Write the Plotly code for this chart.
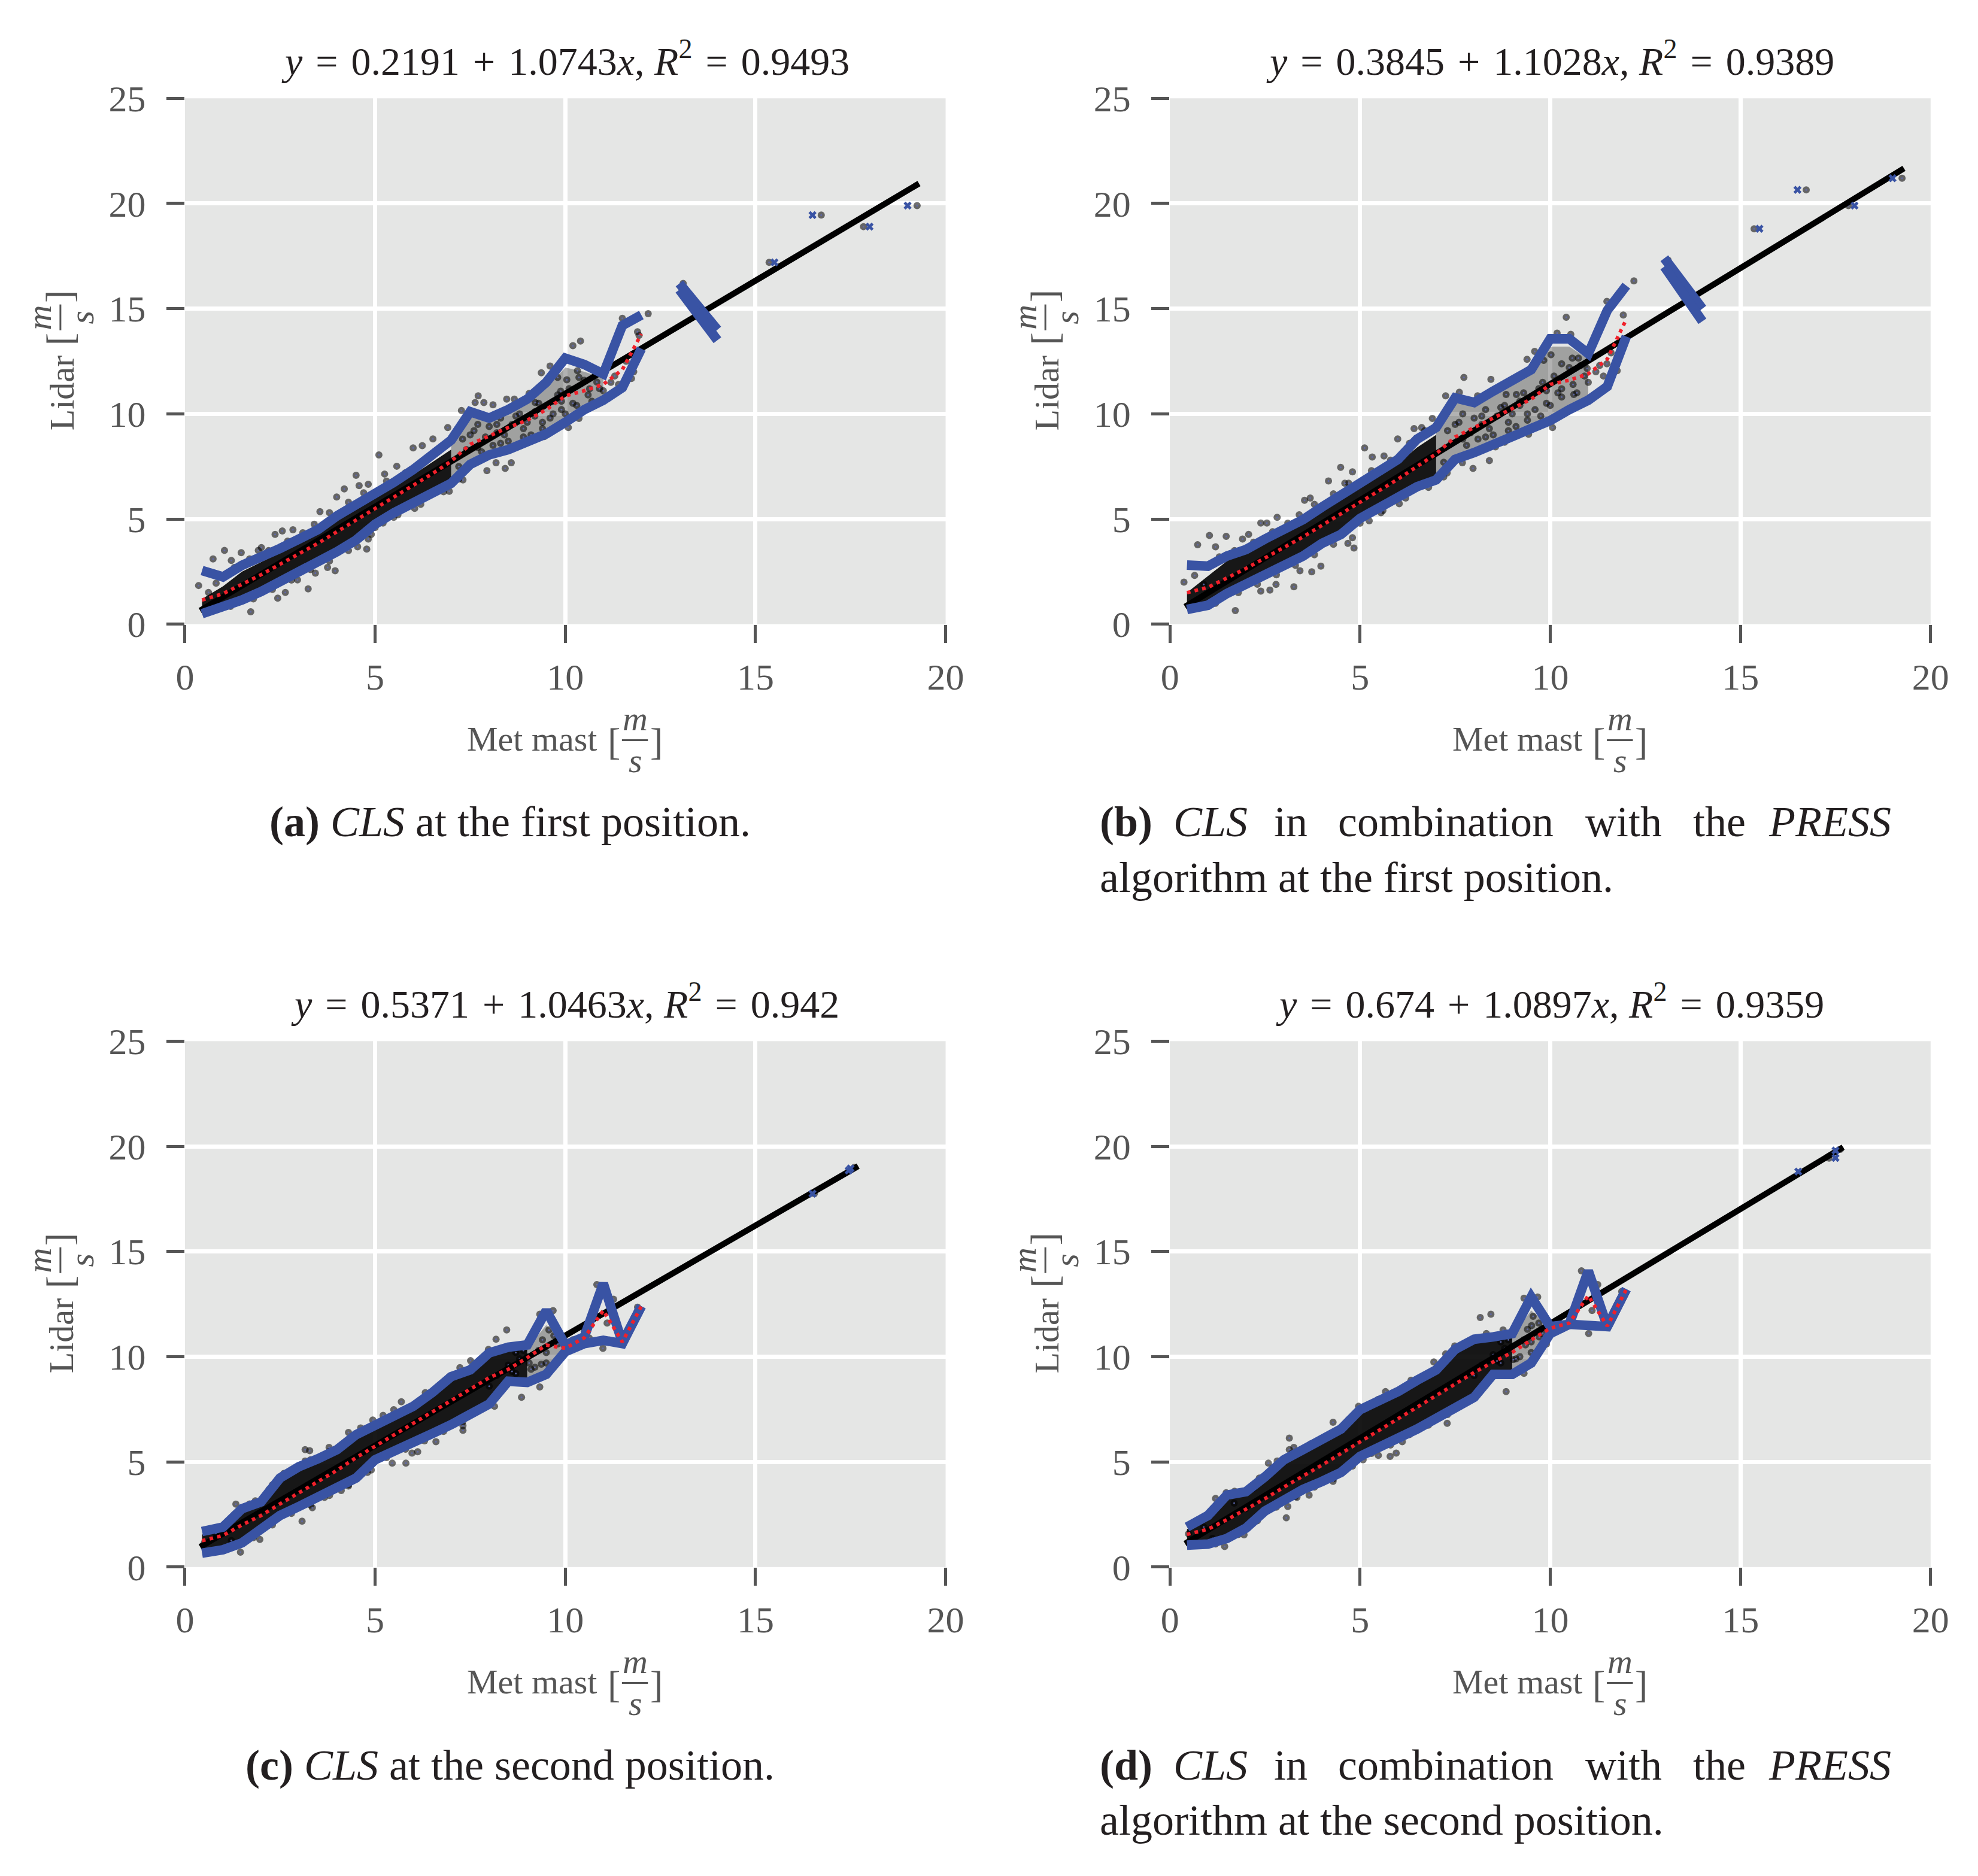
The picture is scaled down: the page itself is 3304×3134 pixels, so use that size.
import plotly.graph_objects as go

W, H = 3304, 3134
FONT = "Liberation Serif"
BG = "#E5E6E5"
BLUE = "#3953A4"
TICK = "#555555"
INK = "#231F20"

# ---------------- data ----------------
bins = [0.45, 1.0, 1.5, 2.0, 2.5, 3.0, 3.5, 4.0, 4.5, 5.0, 5.5, 6.0,
        6.5, 7.0, 7.5, 8.0, 8.5, 9.0, 9.5, 10.0, 10.5, 11.0, 11.5, 12.0]

upper_a = [2.55, 2.25, 2.8, 3.15, 3.6, 4.05, 4.5, 5.15, 5.65, 6.2, 6.75, 7.35,
           8.05, 8.75, 10.1, 9.8, 10.2, 10.7, 11.5, 12.65, 12.35, 11.9, 14.2, 14.7]
lower_a = [0.5, 0.8, 1.15, 1.55, 2.0, 2.45, 2.95, 3.45, 4.0, 4.75, 5.3, 5.8,
           6.25, 6.7, 7.6, 8.05, 8.3, 8.65, 9.05, 9.6, 10.2, 10.65, 11.25, 13.1]
mean_a = [1.15, 1.45, 1.9, 2.35, 2.85, 3.35, 3.85, 4.4, 4.95, 5.5, 6.05, 6.6,
          7.15, 7.75, 8.55, 8.95, 9.35, 9.7, 10.2, 10.85, 11.1, 11.4, 12.1, 13.8]

upper_b = [2.81, 2.76, 3.24, 3.55, 4.05, 4.5, 4.97, 5.57, 6.11, 6.7, 7.3, 7.84,
           8.8, 9.35, 10.76, 10.54, 11.08, 11.62, 12.1, 13.57, 13.57, 12.86, 14.92, 16.1]
lower_b = [0.7, 0.9, 1.46, 1.9, 2.32, 2.76, 3.24, 3.84, 4.27, 5.03, 5.57, 6.11,
           6.54, 6.86, 7.84, 8.16, 8.6, 8.92, 9.3, 9.68, 10.2, 10.65, 11.3, 13.68]
mean_b = [1.5, 1.75, 2.2, 2.65, 3.15, 3.65, 4.15, 4.7, 5.25, 5.8, 6.35, 6.9,
          7.5, 8.1, 8.9, 9.35, 9.8, 10.25, 10.7, 11.4, 11.6, 11.9, 12.6, 14.5]

upper_c = [1.69, 1.9, 2.77, 3.1, 4.23, 4.77, 5.15, 5.58, 6.29, 6.72, 7.15, 7.64,
           8.29, 9.05, 9.37, 10.18, 10.45, 10.56, 12.19, 10.56, 10.94, 13.48, 10.67, 12.4]
lower_c = [0.66, 0.82, 1.15, 1.8, 2.45, 2.88, 3.31, 3.74, 4.23, 5.1, 5.48, 5.91,
           6.34, 6.77, 7.32, 7.75, 8.83, 8.78, 9.16, 10.24, 10.62, 10.78, 10.62, 12.4]
mean_c = [1.25, 1.5, 2.0, 2.45, 3.0, 3.55, 4.1, 4.6, 5.2, 5.75, 6.3, 6.8,
          7.35, 7.9, 8.45, 9.0, 9.4, 9.95, 10.55, 10.4, 10.9, 12.2, 10.7, 12.4]

upper_d = [1.9, 2.45, 3.42, 3.58, 4.29, 5.1, 5.58, 6.02, 6.56, 7.48, 7.86, 8.34,
           8.88, 9.37, 10.35, 10.83, 10.94, 11.1, 12.84, 11.43, 11.54, 14.08, 11.43, 13.21]
lower_d = [1.04, 1.09, 1.36, 1.85, 2.66, 3.2, 3.69, 4.07, 4.5, 5.26, 5.64, 6.13,
           6.56, 7.1, 7.53, 8.07, 9.16, 9.16, 9.7, 11.1, 11.54, 11.48, 11.43, 13.21]
mean_d = [1.55, 1.8, 2.25, 2.75, 3.25, 3.8, 4.35, 4.85, 5.4, 5.95, 6.5, 7.05,
          7.6, 8.15, 8.7, 9.25, 9.75, 10.2, 10.8, 11.35, 11.6, 12.9, 11.45, 13.2]

# isolated band pieces between 13 and 14 m/s (panels a, b)
seg_x = [13.0, 14.0]
seg_hi_a = [16.2, 14.0]
seg_lo_a = [15.9, 13.5]
seg_hi_b = [17.4, 15.0]
seg_lo_b = [17.0, 14.4]

# regression lines (end points)
fit_x_ab = [0.4, 19.3]
fit_y_a = [0.65, 20.95]
fit_y_b = [0.83, 21.67]
fit_x_cd = [0.4, 17.7]
fit_y_c = [0.96, 19.06]
fit_y_d = [1.11, 19.96]

# dense core of the point cloud
core_x_ab = [0.45, 1.0, 1.5, 2.0, 2.5, 3.0, 3.5, 4.0, 4.5, 5.0, 5.5, 6.0, 6.5, 7.0]
core_hi_a = [1.2, 1.8, 2.5, 2.95, 3.4, 3.85, 4.3, 4.95, 5.45, 6.0, 6.5, 7.1, 7.7, 8.3]
core_lo_a = [0.55, 0.85, 1.2, 1.6, 2.05, 2.5, 3.0, 3.5, 4.05, 4.8, 5.35, 5.85, 6.3, 6.75]
core_hi_b = [1.5, 2.3, 3.0, 3.4, 3.9, 4.35, 4.8, 5.4, 5.95, 6.55, 7.1, 7.65, 8.4, 9.0]
core_lo_b = [0.75, 0.95, 1.5, 1.95, 2.35, 2.8, 3.3, 3.9, 4.35, 5.05, 5.6, 6.15, 6.6, 6.9]
mid_x_ab = [7.0, 7.5, 8.0, 8.5, 9.0, 9.5, 10.0, 10.5, 11.0]
mid_hi_a = [8.6, 9.9, 9.7, 10.1, 10.5, 11.2, 12.2, 12.0, 11.7]
mid_lo_a = [6.75, 7.65, 8.1, 8.35, 8.7, 9.1, 9.65, 10.25, 10.7]
mid_hi_b = [9.2, 10.6, 10.4, 10.9, 11.4, 11.9, 13.2, 13.2, 12.6]
mid_lo_b = [6.9, 7.9, 8.2, 8.65, 8.95, 9.35, 9.75, 10.25, 10.7]

core_x_cd = [0.45, 1.0, 1.5, 2.0, 2.5, 3.0, 3.5, 4.0, 4.5, 5.0, 5.5, 6.0,
             6.5, 7.0, 7.5, 8.0, 8.5, 9.0]
core_hi_c = [1.55, 1.8, 2.65, 3.0, 4.1, 4.65, 5.05, 5.5, 6.2, 6.6, 7.05, 7.55,
             8.2, 8.9, 9.25, 10.0, 10.3, 10.4]
core_lo_c = [0.7, 0.85, 1.2, 1.85, 2.5, 2.9, 3.35, 3.8, 4.3, 5.1, 5.5, 5.95,
             6.4, 6.8, 7.35, 7.8, 8.85, 8.8]
core_hi_d = [1.8, 2.35, 3.3, 3.5, 4.2, 5.0, 5.5, 5.95, 6.5, 7.4, 7.8, 8.3,
             8.8, 9.3, 10.25, 10.75, 10.9, 11.0]
core_lo_d = [1.05, 1.1, 1.4, 1.9, 2.7, 3.25, 3.7, 4.1, 4.55, 5.3, 5.7, 6.15,
             6.6, 7.1, 7.55, 8.1, 9.2, 9.2]
mid_x_cd = [9.0, 9.5, 10.0]
mid_hi_c = [10.4, 11.5, 10.6]
mid_lo_c = [8.8, 9.2, 10.2]
mid_hi_d = [11.0, 12.2, 11.4]
mid_lo_d = [9.2, 9.7, 11.0]

# individual points (met mast, lidar)
points_a = [(0.36, 1.84), (0.74, 3.1), (1.04, 3.51), (1.22, 3.03), (1.48, 3.4), (1.73, 0.59),
            (0.62, 1.51), (0.82, 1.95), (2.01, 3.64), (1.93, 3.51), (2.37, 4.27), (2.56, 4.43),
            (2.84, 4.49), (2.44, 1.24), (2.64, 1.51), (2.96, 2.11), (3.24, 1.68), (3.43, 2.43),
            (3.75, 2.7), (3.95, 2.54), (3.55, 5.35), (3.99, 6.05), (4.19, 6.43), (4.5, 7.08),
            (4.58, 6.59), (4.82, 6.65), (4.34, 3.84), (4.54, 3.68), (4.78, 3.57), (4.82, 4.05),
            (4.9, 4.27), (5.1, 8.05), (5.25, 7.14), (5.57, 7.51), (5.21, 4.81), (5.49, 5.08),
            (6.04, 5.51), (6.0, 8.38), (6.24, 8.49), (6.52, 8.81), (6.91, 9.35), (7.27, 10.16),
            (7.71, 10.86), (7.63, 10.54), (7.86, 10.54), (8.1, 10.43), (6.95, 6.32), (7.31, 6.86),
            (7.94, 7.3), (8.18, 7.68), (8.42, 7.41), (8.58, 7.68), (8.46, 10.7), (8.66, 10.7),
            (9.05, 10.97), (9.37, 11.95), (9.6, 12.27), (9.8, 11.73), (9.88, 11.08), (10.2, 13.24),
            (10.4, 13.46), (10.32, 12.05), (10.04, 11.62), (10.36, 11.73), (10.08, 9.35),
            (10.36, 9.78), (9.45, 8.92), (10.64, 11.19), (10.83, 11.51), (11.5, 14.54),
            (11.74, 11.68), (11.9, 13.9), (11.94, 13.73), (12.18, 14.76), (9.68, 10.0),
            (9.21, 10.54), (7.6, 9.2), (7.9, 8.9), (8.2, 9.5), (8.4, 9.0), (8.7, 9.9), (8.9, 9.3),
            (9.2, 10.1), (9.4, 9.6), (9.7, 10.6), (9.9, 10.2), (7.7, 8.4), (8.3, 8.6), (9.1, 9.0),
            (10.2, 10.5), (10.6, 10.9), (10.9, 11.2), (11.2, 11.5), (11.6, 12.5), (11.8, 12.0),
            (1.3, 2.7), (1.7, 3.1), (2.2, 3.5), (2.7, 3.95), (3.1, 4.35), (3.4, 4.75), (3.8, 5.3),
            (4.3, 5.8), (4.7, 6.25), (5.3, 6.8), (5.8, 7.2), (6.3, 7.7), (6.7, 8.3), (1.2, 0.85),
            (1.8, 1.2), (2.3, 1.65), (2.8, 2.1), (3.3, 2.6), (3.8, 3.0), (4.3, 3.5), (5.0, 4.6),
            (5.6, 5.2), (6.2, 5.7), (6.8, 6.3), (7.2, 6.9),
            (7.2, 7.5), (7.4, 8.3), (7.5, 9.0), (7.8, 8.2), (8.0, 9.4), (8.1, 8.5), (8.3, 9.8),
            (8.5, 8.7), (8.6, 9.5), (8.8, 10.0), (8.9, 8.9), (9.0, 9.6), (9.3, 10.5), (9.4, 9.3),
            (9.6, 9.8), (9.8, 10.9), (10.0, 10.0), (10.1, 11.2), (10.3, 10.4), (10.5, 11.6),
            (10.7, 10.6), (10.8, 11.9), (11.0, 11.1), (11.3, 11.8), (11.4, 11.4), (7.3, 8.8),
            (7.7, 9.5), (8.2, 9.1), (9.2, 9.9), (9.9, 10.6),
            (13.1, 16.2), (15.36, 17.2), (16.73, 19.45), (17.84, 18.9), (19.25, 19.9)]
points_b = [(0.37, 2.0), (0.73, 3.78), (1.04, 4.22), (1.2, 3.68), (1.48, 4.18), (1.72, 0.65),
            (0.65, 2.32), (0.89, 1.89), (1.91, 4.05), (2.07, 4.27), (2.39, 4.81), (2.55, 4.81),
            (2.82, 5.08), (2.39, 1.57), (2.63, 1.62), (2.79, 1.89), (3.26, 1.78), (3.42, 2.54),
            (3.73, 2.49), (3.97, 2.76), (3.54, 5.89), (3.69, 6.0), (4.17, 6.81), (4.49, 7.46),
            (4.6, 6.7), (4.8, 7.24), (4.41, 4.16), (4.68, 3.84), (4.84, 3.62), (4.8, 4.11),
            (5.12, 8.38), (5.32, 7.95), (5.63, 8.0), (5.24, 4.92), (5.55, 5.3), (6.03, 5.73),
            (5.99, 8.81), (6.42, 9.3), (6.62, 9.35), (6.9, 9.78), (7.25, 10.86), (7.61, 11.03),
            (7.73, 11.73), (8.09, 10.86), (8.44, 11.64), (8.84, 10.92), (9.11, 10.92), (6.94, 6.81),
            (7.29, 7.19), (7.69, 7.68), (7.97, 7.41), (8.4, 7.78), (8.56, 8.43), (8.8, 8.65),
            (9.39, 12.59), (9.59, 12.97), (10.02, 12.81), (9.83, 12.54), (10.18, 13.84),
            (10.42, 14.59), (10.54, 13.78), (10.3, 12.38), (10.58, 12.65), (10.74, 12.65),
            (10.06, 9.35), (9.43, 9.03), (9.75, 9.9), (10.3, 11.19), (10.62, 10.92), (10.97, 12.16),
            (11.49, 15.35), (11.49, 12.38), (11.76, 12.05), (11.92, 14.7), (12.2, 16.32),
            (7.6, 9.6), (7.9, 9.1), (8.2, 9.9), (8.4, 9.3), (8.7, 10.3), (8.9, 9.6), (9.2, 10.6),
            (9.4, 10.0), (9.7, 11.2), (9.9, 10.5), (7.7, 8.8), (8.3, 8.9), (9.1, 9.4), (10.2, 11.0),
            (10.6, 11.4), (10.9, 11.8), (11.2, 12.0), (11.6, 12.9), (11.8, 12.6),
            (1.3, 3.2), (1.7, 3.5), (2.2, 3.9), (2.7, 4.4), (3.1, 4.8), (3.4, 5.2), (3.8, 5.7),
            (4.3, 6.2), (4.7, 6.7), (5.3, 7.3), (5.8, 7.8), (6.3, 8.6), (6.7, 9.2), (1.2, 1.0),
            (1.8, 1.5), (2.3, 1.9), (2.8, 2.35), (3.3, 2.8), (3.8, 3.3), (4.3, 3.8), (5.0, 4.8),
            (5.6, 5.4), (6.2, 6.0), (6.8, 6.5), (7.2, 7.0),
            (7.2, 7.7), (7.4, 8.6), (7.5, 9.5), (7.8, 8.5), (8.0, 9.8), (8.1, 8.8), (8.3, 10.2),
            (8.5, 9.0), (8.6, 9.9), (8.8, 10.4), (8.9, 9.2), (9.0, 10.0), (9.3, 11.0), (9.4, 9.7),
            (9.6, 10.2), (9.8, 11.5), (10.0, 10.4), (10.1, 11.8), (10.3, 10.8), (10.5, 12.2),
            (10.7, 11.0), (10.8, 12.3), (11.0, 11.5), (11.3, 12.3), (11.4, 11.8), (7.3, 9.2),
            (7.7, 10.0), (8.2, 9.5), (9.2, 10.4), (9.9, 11.1),
            (13.1, 17.3), (15.36, 18.8), (16.73, 20.65), (17.84, 19.9), (19.25, 21.2)]
points_c = [(1.34, 2.99), (1.85, 3.15), (1.97, 1.31), (1.46, 0.71), (0.51, 1.15), (0.82, 1.58),
            (1.22, 1.26), (2.6, 4.45), (2.21, 3.69), (3.08, 2.18), (3.35, 2.82), (3.67, 3.31),
            (3.16, 5.58), (3.28, 5.53), (3.79, 5.69), (3.16, 5.04), (4.11, 3.64), (4.3, 3.91),
            (4.3, 6.4), (4.62, 6.61), (4.94, 6.99), (5.21, 7.21), (5.49, 7.48), (5.69, 7.86),
            (5.97, 5.42), (6.12, 5.48), (5.81, 4.94), (5.45, 4.94), (4.9, 4.61), (6.6, 5.96),
            (6.32, 8.29), (6.95, 9.05), (7.23, 9.48), (7.51, 9.81), (7.31, 6.5), (7.31, 6.72),
            (8.18, 10.83), (8.46, 11.27), (7.98, 10.35), (8.14, 7.64), (8.85, 8.07), (9.33, 8.56),
            (9.33, 12.02), (9.68, 12.19), (9.57, 11.27), (9.37, 9.64), (10.99, 10.4), (10.83, 13.43),
            (11.27, 12.73), (11.9, 12.35), (10.63, 10.89), (9.05, 9.7), (8.2, 9.1), (8.5, 9.6),
            (8.7, 9.2), (9.0, 10.0), (9.2, 9.5), (9.5, 10.2), (9.8, 10.6), (8.0, 8.6), (8.9, 10.3),
            (10.2, 10.8), (10.5, 11.2), (11.1, 11.6),
            (1.3, 2.5), (1.7, 3.0), (2.3, 3.9), (2.8, 4.6), (3.3, 5.1), (3.8, 5.5), (4.3, 6.0),
            (4.8, 6.6), (5.3, 7.0), (5.8, 7.5), (6.3, 8.0), (6.8, 8.7), (1.2, 0.9), (1.8, 1.4),
            (2.3, 2.0), (2.8, 2.55), (3.3, 2.95), (3.8, 3.4), (4.3, 3.85), (4.8, 4.5), (5.3, 5.2),
            (5.8, 5.6), (6.3, 6.0), (6.8, 6.45), (7.3, 6.9),
            (8.6, 9.3), (8.8, 9.9), (9.1, 9.4), (9.3, 10.3), (9.5, 9.7), (9.7, 11.0), (9.9, 10.1),
            (10.1, 10.7), (10.3, 10.6), (10.6, 11.4), (8.7, 10.2), (9.4, 10.8),
            (16.55, 17.75), (17.6, 19.0)]
points_d = [(1.48, 3.53), (1.2, 3.26), (1.69, 3.04), (1.99, 2.77), (1.44, 0.98), (1.95, 1.53),
            (0.49, 1.58), (0.89, 1.9), (1.12, 1.36), (2.35, 4.23), (2.59, 4.94), (2.82, 5.04),
            (3.06, 2.34), (3.1, 2.88), (3.34, 3.31), (3.66, 3.42), (3.14, 6.13), (3.26, 5.69),
            (3.14, 5.58), (4.29, 6.88), (4.29, 4.07), (4.96, 7.64), (5.48, 7.97), (5.67, 8.34),
            (5.79, 5.26), (5.95, 5.42), (5.48, 5.31), (5.08, 5.1), (6.11, 5.96), (6.58, 6.61),
            (6.34, 8.88), (6.94, 9.75), (7.25, 10.13), (7.49, 10.51), (7.29, 6.83), (7.1, 7.1),
            (8.16, 11.86), (8.44, 12.02), (8.32, 11.1), (8.76, 11.27), (8.84, 8.34), (9.31, 9.21),
            (9.31, 12.78), (9.67, 12.84), (9.55, 11.92), (9.51, 11.48), (9.71, 10.94), (10.82, 14.08),
            (11.25, 13.43), (11.01, 11.1), (11.88, 13.1), (9.35, 10.56), (9.03, 9.86), (8.2, 9.6),
            (8.5, 10.1), (8.7, 9.7), (9.0, 10.5), (9.2, 10.0), (9.5, 10.7), (9.8, 11.1), (8.0, 9.1),
            (8.9, 10.8), (10.2, 11.3), (10.5, 11.7), (11.1, 12.2),
            (1.3, 3.0), (1.7, 3.6), (2.2, 3.75), (2.7, 4.7), (3.2, 5.4), (3.7, 5.85), (4.2, 6.3),
            (4.7, 7.0), (5.3, 7.75), (5.8, 8.1), (6.3, 8.6), (6.8, 9.2), (1.2, 1.1), (1.8, 1.55),
            (2.3, 2.2), (2.8, 2.85), (3.3, 3.35), (3.8, 3.8), (4.3, 4.2), (4.8, 4.8), (5.3, 5.4),
            (5.8, 5.8), (6.3, 6.3), (6.8, 6.75), (7.3, 7.25),
            (8.6, 9.8), (8.8, 10.4), (9.1, 9.9), (9.3, 10.8), (9.5, 10.2), (9.7, 11.6), (9.9, 10.6),
            (10.1, 11.4), (10.3, 11.3), (10.6, 11.6), (8.7, 10.7), (9.4, 11.3),
            (17.33, 19.44), (17.63, 19.86)]

# blue cross markers at the sparse high wind speeds
cross_a = [(15.5, 17.2), (16.5, 19.45), (18.0, 18.9), (19.0, 19.9)]
cross_b = [(15.5, 18.8), (16.5, 20.65), (18.0, 19.9), (19.0, 21.2)]
cross_c = [(16.5, 17.75), (17.45, 18.85), (17.5, 18.95)]
cross_d = [(16.52, 18.8), (17.5, 19.8), (17.5, 19.45)]

SP = "\u2004"
titles = [
    "<i>y</i>{0}={0}0.2191{0}+{0}1.0743<i>x</i>, <i>R</i><sup>2</sup>{0}={0}0.9493".format(SP),
    "<i>y</i>{0}={0}0.3845{0}+{0}1.1028<i>x</i>, <i>R</i><sup>2</sup>{0}={0}0.9389".format(SP),
    "<i>y</i>{0}={0}0.5371{0}+{0}1.0463<i>x</i>, <i>R</i><sup>2</sup>{0}={0}0.942".format(SP),
    "<i>y</i>{0}={0}0.674{0}+{0}1.0897<i>x</i>, <i>R</i><sup>2</sup>{0}={0}0.9359".format(SP),
]
x_ticks = [0, 5, 10, 15, 20]
y_ticks = [0, 5, 10, 15, 20, 25]

panels = [
    dict(left=289, y0=1024, up=upper_a, lo=lower_a, mean=mean_a, fx=fit_x_ab, fy=fit_y_a,
         cx=core_x_ab, chi=core_hi_a, clo=core_lo_a, mx=mid_x_ab, mhi=mid_hi_a, mlo=mid_lo_a,
         pts=points_a, cross=cross_a, seg=(seg_hi_a, seg_lo_a)),
    dict(left=1958, y0=1024, up=upper_b, lo=lower_b, mean=mean_b, fx=fit_x_ab, fy=fit_y_b,
         cx=core_x_ab, chi=core_hi_b, clo=core_lo_b, mx=mid_x_ab, mhi=mid_hi_b, mlo=mid_lo_b,
         pts=points_b, cross=cross_b, seg=(seg_hi_b, seg_lo_b)),
    dict(left=289, y0=2634, up=upper_c, lo=lower_c, mean=mean_c, fx=fit_x_cd, fy=fit_y_c,
         cx=core_x_cd, chi=core_hi_c, clo=core_lo_c, mx=mid_x_cd, mhi=mid_hi_c, mlo=mid_lo_c,
         pts=points_c, cross=cross_c, seg=None),
    dict(left=1958, y0=2634, up=upper_d, lo=lower_d, mean=mean_d, fx=fit_x_cd, fy=fit_y_d,
         cx=core_x_cd, chi=core_hi_d, clo=core_lo_d, mx=mid_x_cd, mhi=mid_hi_d, mlo=mid_lo_d,
         pts=points_d, cross=cross_d, seg=None),
]

PW, PH = 1289, 898   # plot area in pixels


def fx(px):
    return px / W


def fy(py):
    return 1 - py / H


def text(s, x, y, size, color=TICK, xanchor="center", yanchor="middle", angle=0):
    return dict(text=s, x=fx(x), y=fy(y), xref="paper", yref="paper", showarrow=False,
                xanchor=xanchor, yanchor=yanchor, textangle=angle,
                font=dict(family=FONT, size=size, color=color))


def bar(x0, y0, x1, y1):
    return dict(type="line", xref="paper", yref="paper", x0=fx(x0), y0=fy(y0),
                x1=fx(x1), y1=fy(y1), line=dict(color=TICK, width=3))


fig = go.Figure()
annotations, shapes = [], []
layout = {}

for i, p in enumerate(panels):
    n = "" if i == 0 else str(i + 1)
    xa, ya = "x" + n, "y" + n
    layout["xaxis" + n] = dict(
        domain=[fx(p["left"]), fx(p["left"] + PW)], range=[0, 20], anchor=ya,
        tickvals=x_ticks, ticks="outside", ticklen=30, tickwidth=5, tickcolor=TICK,
        ticklabelstandoff=4, tickfont=dict(family=FONT, size=62, color=TICK),
        showgrid=True, gridcolor="white", gridwidth=7, zeroline=False, showline=False)
    layout["yaxis" + n] = dict(
        domain=[fy(p["y0"]), fy(p["y0"] - PH)], range=[0, 25], anchor=xa,
        tickvals=y_ticks, ticks="outside", ticklen=30, tickwidth=5, tickcolor=TICK,
        ticklabelstandoff=22, tickfont=dict(family=FONT, size=62, color=TICK),
        showgrid=True, gridcolor="white", gridwidth=7, zeroline=False, showline=False)

    # dense cloud core and semi dense part
    fig.add_trace(go.Scatter(x=p["cx"] + p["cx"][::-1], y=p["chi"] + p["clo"][::-1],
                             xaxis=xa, yaxis=ya, mode="lines", fill="toself",
                             fillcolor="rgba(5,5,5,0.92)", line=dict(width=0)))
    fig.add_trace(go.Scatter(x=p["mx"] + p["mx"][::-1], y=p["mhi"] + p["mlo"][::-1],
                             xaxis=xa, yaxis=ya, mode="lines", fill="toself",
                             fillcolor="rgba(15,15,15,0.32)", line=dict(width=0)))
    px_, py_ = [q[0] for q in p["pts"]], [q[1] for q in p["pts"]]
    fig.add_trace(go.Scatter(x=px_, y=py_, xaxis=xa, yaxis=ya, mode="markers",
                             marker=dict(size=12, color="rgba(0,0,0,0.56)", line=dict(width=0))))
    fig.add_trace(go.Scatter(x=px_, y=py_, xaxis=xa, yaxis=ya, mode="markers",
                             marker=dict(size=3, color="rgba(95,105,175,0.9)", line=dict(width=0))))
    # regression line
    fig.add_trace(go.Scatter(x=p["fx"], y=p["fy"], xaxis=xa, yaxis=ya, mode="lines",
                             line=dict(color="black", width=10)))
    # spread bands
    for band in (p["up"], p["lo"]):
        fig.add_trace(go.Scatter(x=bins, y=band, xaxis=xa, yaxis=ya, mode="lines",
                                 line=dict(color=BLUE, width=16)))
    if p["seg"]:
        for band in p["seg"]:
            fig.add_trace(go.Scatter(x=seg_x, y=band, xaxis=xa, yaxis=ya, mode="lines",
                                     line=dict(color=BLUE, width=16)))
    # bin means
    fig.add_trace(go.Scatter(x=bins, y=p["mean"], xaxis=xa, yaxis=ya, mode="lines",
                             line=dict(color="#F0202A", width=6, dash="6px,7px")))
    fig.add_trace(go.Scatter(x=[q[0] for q in p["cross"]], y=[q[1] for q in p["cross"]],
                             xaxis=xa, yaxis=ya, mode="markers",
                             marker=dict(symbol="x", size=12, color=BLUE, line=dict(width=0))))

    left, y0 = p["left"], p["y0"]
    cx = left + PW / 2
    # title
    annotations.append(text(titles[i], cx, y0 - 966, 66, INK))
    # x label  Met mast [m/s]
    annotations.append(text("Met mast", cx + 56, y0 + 196, 58, xanchor="right"))
    annotations.append(text("[", cx + 82, y0 + 200, 64))
    annotations.append(text("<i>m</i>", cx + 118, y0 + 161, 58))
    annotations.append(text("<i>s</i>", cx + 119, y0 + 233, 58))
    annotations.append(text("]", cx + 154, y0 + 200, 64))
    shapes.append(bar(cx + 96, y0 + 198, cx + 140, y0 + 198))
    # y label  Lidar [m/s]  (rotated)
    cy = y0 - PH / 2
    bx = left - 211
    annotations.append(text("]", bx - 2, cy - 111, 64, angle=-90))
    annotations.append(text("<i>m</i>", bx - 36, cy - 75, 58, angle=-90))
    annotations.append(text("<i>s</i>", bx + 36, cy - 75, 58, angle=-90))
    annotations.append(text("[", bx - 2, cy - 38, 64, angle=-90))
    annotations.append(text("Lidar", bx + 2, cy + 54, 58, angle=-90))
    shapes.append(bar(bx, cy - 97, bx, cy - 53))

# captions
CAP = 72
annotations.append(text("<b>(a)</b> <i>CLS</i> at the first position.", 840, 1362, CAP, INK))
annotations.append(text("<b>(c)</b> <i>CLS</i> at the second position.", 840, 2972, CAP, INK))
for y0, where in ((1024, "first"), (2634, "second")):
    letter = "b" if where == "first" else "d"
    left = 1958
    yl = y0 + 338
    annotations.append(text("<b>(%s)</b>" % letter, left - 121, yl, CAP, INK, xanchor="left"))
    annotations.append(text("<i>CLS</i>", left + 69, yl, CAP, INK))
    annotations.append(text("in", left + 205, yl, CAP, INK))
    annotations.append(text("combination", left + 468, yl, CAP, INK))
    annotations.append(text("with", left + 769, yl, CAP, INK))
    annotations.append(text("the", left + 931, yl, CAP, INK))
    annotations.append(text("<i>PRESS</i>", left + 1224, yl, CAP, INK, xanchor="right"))
    annotations.append(text("algorithm at the %s position." % where, left - 121, yl + 95,
                            CAP, INK, xanchor="left"))

fig.update_layout(
    width=W, height=H, autosize=False, showlegend=False,
    margin=dict(l=0, r=0, t=0, b=0),
    paper_bgcolor="white", plot_bgcolor=BG,
    font=dict(family=FONT, color=TICK),
    annotations=annotations, shapes=shapes, **layout)

fig.write_html("out.html")
